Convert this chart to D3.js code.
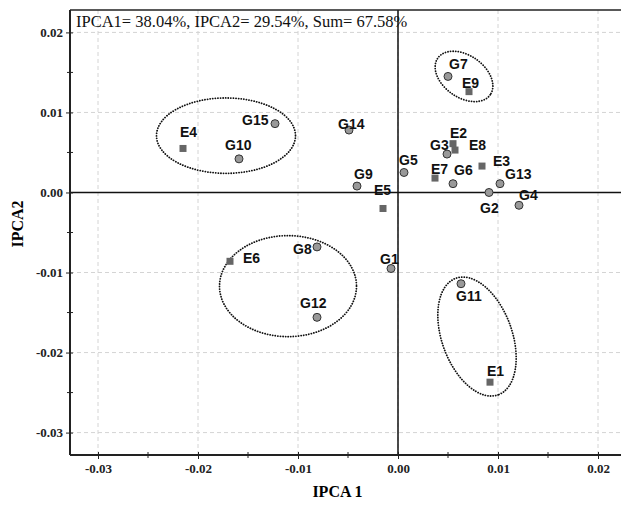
<!DOCTYPE html>
<html>
<head>
<meta charset="utf-8">
<script src="https://cdn.jsdelivr.net/npm/d3@7"></script>
<style>
  body { margin: 0; background: #fff; }
  svg { display: block; }
</style>
</head>
<body>
<svg id="chart" width="621" height="509"></svg>
<script>
//========================== Data ================================

let genoNames = ['G1','G2','G3','G4','G5','G6','G7','G8','G9','G10','G11','G12','G13','G14','G15']
let genoX = [-0.0007, 0.0091, 0.0049, 0.0121, 0.0006, 0.0055, 0.0050, -0.0081, -0.0041, -0.0159, 0.0063, -0.0081, 0.0102, -0.0049, -0.0123]
let genoY = [-0.0095, 0.0000, 0.0048, -0.0016, 0.0025, 0.0011, 0.0145, -0.0068, 0.0008, 0.0042, -0.0114, -0.0156, 0.0011, 0.0078, 0.0086]

let envNames = ['E1','E2','E3','E4','E5','E6','E7','E8','E9']
let envX = [0.0092, 0.0055, 0.0084, -0.0215, -0.0015, -0.0168, 0.0037, 0.0057, 0.0071]
let envY = [-0.0237, 0.0061, 0.0033, 0.0055, -0.0020, -0.0086, 0.0018, 0.0053, 0.0126]

let xTicks = [-0.03, -0.02, -0.01, 0.00, 0.01, 0.02]
let yTicks = [-0.03, -0.02, -0.01, 0.00, 0.01, 0.02]

let titleText = 'IPCA1= 38.04%, IPCA2= 29.54%, Sum= 67.58%'

// label nudges in px (dx, dy from the marker to text start / baseline)
let genoLabelOff = [[-11,-5],[-9,21],[-17,-4],[0,-5],[-5,-7],[1,-9],[1,-7],[-24,7],[-3,-7],[-14,-9],[-5,17],[-17,-9],[5,-5],[-11,-1],[-33,1]]
let envLabelOff = [[-3,-6],[-3,-6],[11,0],[-3,-11],[-9,-13],[13,2],[-4,-4],[14,0],[-7,-4]]

// dotted clusters: centre (data), radii (data units on each axis), tilt in degrees
let clusterCx = [-0.0172, 0.0066, -0.0110, 0.0079]
let clusterCy = [0.0071, 0.0145, -0.0117, -0.0180]
let clusterRx = [0.00695, 0.0032, 0.00685, 0.0062]
let clusterRy = [0.00471, 0.00263, 0.00631, 0.00438]
let clusterTilt = [0, 35, 0, 70];

//========================== Chart ================================

(function() {

  let svg = d3.select('#chart')
  let pL = 70, pR = 621, pT = 10, pB = 455
  let serif = '"Liberation Serif", "Times New Roman", serif'
  let sans = '"Liberation Sans", Arial, sans-serif'

  let x = d3.scaleLinear().domain([-0.0328, 0.0223]).range([pL, pR])
  let y = d3.scaleLinear().domain([-0.0328, 0.0228]).range([pB, pT])
  let fmt = d => d.toFixed(2)

  // grid
  let grid = svg.append('g').attr('stroke', '#d4d4d4').attr('stroke-dasharray', '4,3').attr('stroke-width', 1)
  grid.append('g').selectAll('line').data(xTicks).join('line')
    .attr('x1', d => x(d)).attr('x2', d => x(d)).attr('y1', pT).attr('y2', pB)
  grid.append('g').selectAll('line').data(yTicks).join('line')
    .attr('x1', pL).attr('x2', pR).attr('y1', d => y(d)).attr('y2', d => y(d))

  // zero lines
  svg.append('line').attr('x1', x(0)).attr('x2', x(0)).attr('y1', pT).attr('y2', pB)
    .attr('stroke', '#111').attr('stroke-width', 1.5)
  svg.append('line').attr('x1', pL).attr('x2', pR).attr('y1', y(0)).attr('y2', y(0))
    .attr('stroke', '#111').attr('stroke-width', 1.5)

  // top frame
  svg.append('line').attr('x1', pL).attr('x2', pR).attr('y1', pT).attr('y2', pT)
    .attr('stroke', '#222').attr('stroke-width', 1.5)

  // minor ticks (half steps)
  let minorX = [-0.025, -0.015, -0.005, 0.005, 0.015]
  let minorY = [-0.025, -0.015, -0.005, 0.005, 0.015]

  let xAxis = svg.append('g').attr('transform', `translate(0,${pB})`)
    .call(d3.axisBottom(x).tickValues(xTicks).tickFormat(fmt).tickSize(4).tickSizeOuter(0))
  xAxis.selectAll('.tick line').attr('y1', -3)
  xAxis.selectAll('.tick text').attr('y', 9)
  xAxis.append('g').selectAll('line').data(minorX).join('line')
    .attr('x1', d => x(d)).attr('x2', d => x(d)).attr('y1', -3).attr('y2', 3).attr('stroke', '#222')

  let yAxis = svg.append('g').attr('transform', `translate(${pL},0)`)
    .call(d3.axisLeft(y).tickValues(yTicks).tickFormat(fmt).tickSize(4).tickSizeOuter(0))
  yAxis.selectAll('.tick line').attr('x1', 3)
  yAxis.selectAll('.tick text').attr('x', -7)
  yAxis.append('g').selectAll('line').data(minorY).join('line')
    .attr('y1', d => y(d)).attr('y2', d => y(d)).attr('x1', -3).attr('x2', 3).attr('stroke', '#222')

  svg.selectAll('.domain').attr('stroke', '#222').attr('stroke-width', 2)
  svg.selectAll('.tick line').attr('stroke', '#222')
  svg.selectAll('.tick text')
    .style('font-family', serif).style('font-weight', 'bold').style('font-size', '13px').attr('fill', '#222')
  xAxis.select('.domain').attr('d', `M${pL},0H${pR}`)
  yAxis.select('.domain').attr('d', `M0,${pT}V${pB}`)

  // title and axis names
  svg.append('text').attr('x', 76).attr('y', 26.5)
    .style('font-family', serif).style('font-size', '16.5px').attr('fill', '#111')
    .text(titleText)
  svg.append('text').attr('x', 337.5).attr('y', 497).attr('text-anchor', 'middle')
    .style('font-family', serif).style('font-size', '16px').style('font-weight', 'bold')
    .text('IPCA 1')
  svg.append('text').attr('transform', 'translate(23,224) rotate(-90)').attr('text-anchor', 'middle')
    .style('font-family', serif).style('font-size', '16px').style('font-weight', 'bold')
    .text('IPCA2')

  // clusters
  svg.append('g').selectAll('ellipse').data(clusterCx).join('ellipse')
    .attr('transform', (d, i) => `translate(${x(d)},${y(clusterCy[i])}) rotate(${clusterTilt[i]})`)
    .attr('rx', (d, i) => x(clusterRx[i]) - x(0))
    .attr('ry', (d, i) => y(0) - y(clusterRy[i]))
    .attr('fill', 'none').attr('stroke', '#111').attr('stroke-width', 1.8)
    .attr('stroke-dasharray', '0.1,2.5').attr('stroke-linecap', 'round')

  // environments (squares)
  svg.append('g').selectAll('rect').data(envNames).join('rect')
    .attr('x', (d, i) => x(envX[i]) - 3.5).attr('y', (d, i) => y(envY[i]) - 3.5)
    .attr('width', 7).attr('height', 7).attr('fill', '#666')

  // genotypes (circles)
  svg.append('g').selectAll('circle').data(genoNames).join('circle')
    .attr('cx', (d, i) => x(genoX[i])).attr('cy', (d, i) => y(genoY[i]))
    .attr('r', 4).attr('fill', '#999').attr('stroke', '#333').attr('stroke-width', 1)

  // labels
  let lbl = s => s.style('font-family', sans).style('font-weight', 'bold').style('font-size', '14px').attr('fill', '#111')
  svg.append('g').selectAll('text').data(envNames).join('text').call(lbl)
    .attr('x', (d, i) => x(envX[i]) + envLabelOff[i][0]).attr('y', (d, i) => y(envY[i]) + envLabelOff[i][1])
    .text(d => d)
  svg.append('g').selectAll('text').data(genoNames).join('text').call(lbl)
    .attr('x', (d, i) => x(genoX[i]) + genoLabelOff[i][0]).attr('y', (d, i) => y(genoY[i]) + genoLabelOff[i][1])
    .text(d => d)

})()
</script>
</body>
</html>
